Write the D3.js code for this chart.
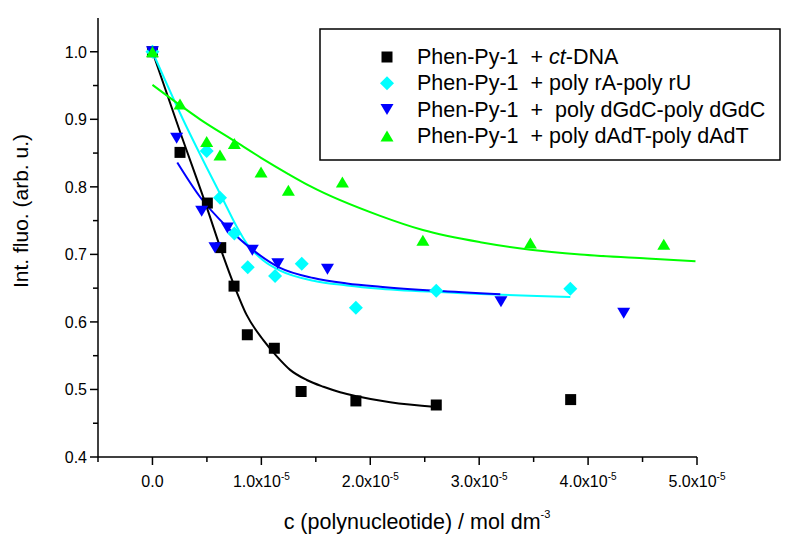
<!DOCTYPE html>
<html>
<head>
<meta charset="utf-8">
<script src="https://cdn.jsdelivr.net/npm/d3@7/dist/d3.min.js"></script>
<style>
  html, body { margin: 0; padding: 0; background: #fff; }
  svg { display: block; font-family: "Liberation Sans", Arial, sans-serif; }
  text { white-space: pre; }
</style>
</head>
<body>
<svg id="chart" width="798" height="534"></svg>
<script>
// Concentrations are in units of 1e-5 mol dm^-3; intensities are normalised.

// Phen-Py-1 + ct-DNA
const dnaX = [0, 0.253, 0.504, 0.627, 0.749, 0.871, 1.119, 1.365, 1.868, 2.606, 3.84];
const dnaY = [1.0, 0.851, 0.776, 0.710, 0.653, 0.581, 0.561, 0.497, 0.483, 0.477, 0.485];
const dnaFitX = [0, 0.25, 0.498, 0.651, 0.743, 0.866, 1.018, 1.142, 1.264, 1.417, 1.570, 1.723, 1.877, 2.183, 2.606];
const dnaFitY = [1.0, 0.883, 0.770, 0.697, 0.657, 0.610, 0.573, 0.549, 0.529, 0.514, 0.504, 0.496, 0.490, 0.481, 0.474];

// Phen-Py-1 + poly rA-poly rU
const rArUX = [0, 0.498, 0.62, 0.752, 0.875, 1.126, 1.371, 1.868, 2.606, 3.837];
const rArUY = [1.0, 0.853, 0.784, 0.731, 0.681, 0.668, 0.686, 0.621, 0.646, 0.649];
const rArUFitX = [0, 0.283, 0.5, 0.636, 0.774, 0.866, 1.018, 1.172, 1.478, 1.785, 2.091, 2.8, 3.837];
const rArUFitY = [1.0, 0.899, 0.828, 0.785, 0.741, 0.716, 0.691, 0.676, 0.661, 0.654, 0.649, 0.643, 0.637];

// Phen-Py-1 + poly dGdC-poly dGdC
const gcX = [0, 0.222, 0.452, 0.574, 0.688, 0.917, 1.151, 1.607, 3.2, 4.327];
const gcY = [1.0, 0.872, 0.764, 0.710, 0.739, 0.706, 0.686, 0.678, 0.630, 0.613];
const gcFitX = [0.228, 0.437, 0.682, 0.926, 1.172, 1.478, 1.785, 2.091, 2.6, 3.194];
const gcFitY = [0.836, 0.785, 0.741, 0.706, 0.680, 0.665, 0.657, 0.652, 0.646, 0.641];

// Phen-Py-1 + poly dAdT-poly dAdT
const atX = [0, 0.253, 0.498, 0.62, 0.752, 0.997, 1.248, 1.744, 2.483, 3.47, 4.695];
const atY = [1.0, 0.9225, 0.867, 0.847, 0.864, 0.822, 0.795, 0.807, 0.721, 0.717, 0.715];
const atFitX = [0, 0.253, 0.437, 0.752, 0.997, 1.248, 1.448, 2.091, 2.483, 3.01, 3.47, 3.929, 4.542, 4.986];
const atFitY = [0.951, 0.921, 0.900, 0.868, 0.843, 0.819, 0.801, 0.757, 0.736, 0.718, 0.707, 0.700, 0.694, 0.690];

// Axis ticks
const xMajorTicks = [0, 1, 2, 3, 4, 5];
const xMinorTicks = [-0.5, 0.5, 1.5, 2.5, 3.5, 4.5];
const yMajorTicks = [0.4, 0.5, 0.6, 0.7, 0.8, 0.9, 1.0];
const yMinorTicks = [0.45, 0.55, 0.65, 0.75, 0.85, 0.95];

const seriesNames = [
  ["Phen-Py-1  + ", "ct", "-DNA"],
  ["Phen-Py-1  + poly rA-poly rU"],
  ["Phen-Py-1  +  poly dGdC-poly dGdC"],
  ["Phen-Py-1  + poly dAdT-poly dAdT"]
];

const series = [
  { x: dnaX, y: dnaY, fx: dnaFitX, fy: dnaFitY, color: "#000000", shape: "square" },
  { x: rArUX, y: rArUY, fx: rArUFitX, fy: rArUFitY, color: "#00ffff", shape: "diamond" },
  { x: gcX, y: gcY, fx: gcFitX, fy: gcFitY, color: "#0000ff", shape: "down" },
  { x: atX, y: atY, fx: atFitX, fy: atFitY, color: "#00ff00", shape: "up" }
];

const svg = d3.select("#chart");
const x = d3.scaleLinear().domain([-0.5, 5]).range([98, 697]);
const y = d3.scaleLinear().domain([0.4, 1.05]).range([457, 18]);

function markerPath(shape) {
  if (shape === "square") return "M-5.5,-5.5H5.5V5.5H-5.5Z";
  if (shape === "diamond") return "M0,-7L7,0L0,7L-7,0Z";
  if (shape === "down") return "M-6.5,-5.5L6.5,-5.5L0,5.5Z";
  return "M0,-5.5L6.5,5.5L-6.5,5.5Z";
}

// Fitted curves
const line = d3.line().x(d => x(d[0])).y(d => y(d[1])).curve(d3.curveMonotoneX);
const plot = svg.append("g");
series.forEach(s => {
  plot.append("path")
    .attr("d", line(d3.zip(s.fx, s.fy)))
    .attr("fill", "none")
    .attr("stroke", s.color)
    .attr("stroke-width", 2);
});

// Data points (drawn in legend order so later series sit on top)
series.forEach(s => {
  plot.selectAll(null)
    .data(d3.zip(s.x, s.y))
    .join("path")
    .attr("d", markerPath(s.shape))
    .attr("transform", d => `translate(${x(d[0])},${y(d[1])})`)
    .attr("fill", s.color);
});

// Axes
const axes = svg.append("g").attr("stroke", "#000").attr("stroke-width", 1.5);
axes.append("line").attr("x1", x(-0.5)).attr("x2", x(5)).attr("y1", y(0.4)).attr("y2", y(0.4));
axes.append("line").attr("x1", x(-0.5)).attr("x2", x(-0.5)).attr("y1", y(0.4)).attr("y2", y(1.05));

axes.selectAll(null).data(xMajorTicks).join("line")
  .attr("x1", d => x(d)).attr("x2", d => x(d)).attr("y1", y(0.4)).attr("y2", y(0.4) + 8);
axes.selectAll(null).data(xMinorTicks).join("line")
  .attr("x1", d => x(d)).attr("x2", d => x(d)).attr("y1", y(0.4)).attr("y2", y(0.4) + 5);
axes.selectAll(null).data(yMajorTicks).join("line")
  .attr("y1", d => y(d)).attr("y2", d => y(d)).attr("x1", x(-0.5)).attr("x2", x(-0.5) - 8);
axes.selectAll(null).data(yMinorTicks).join("line")
  .attr("y1", d => y(d)).attr("y2", d => y(d)).attr("x1", x(-0.5)).attr("x2", x(-0.5) - 5);

// Tick labels
svg.selectAll(null).data(yMajorTicks).join("text")
  .attr("x", x(-0.5) - 11)
  .attr("y", d => y(d) + 6)
  .attr("text-anchor", "end")
  .attr("font-size", 16)
  .text(d => d.toFixed(1));

const xl = svg.selectAll(null).data(xMajorTicks).join("text")
  .attr("x", d => x(d))
  .attr("y", 487)
  .attr("text-anchor", "middle")
  .attr("font-size", 16);
xl.append("tspan").text(d => d === 0 ? "0.0" : d.toFixed(1) + "x10");
xl.filter(d => d !== 0).append("tspan")
  .attr("dy", -7).attr("font-size", 10).text("-5");

// Axis titles
const xt = svg.append("text")
  .attr("x", 417).attr("y", 529)
  .attr("text-anchor", "middle")
  .attr("font-size", 21.5);
xt.append("tspan").text("c (polynucleotide) / mol dm");
xt.append("tspan").attr("dy", -11).attr("font-size", 11).text("-3");

svg.append("text")
  .attr("transform", "translate(28,211) rotate(-90)")
  .attr("text-anchor", "middle")
  .attr("font-size", 21)
  .text("Int. fluo. (arb. u.)");

// Legend
const legend = svg.append("g");
legend.append("rect")
  .attr("x", 320).attr("y", 29).attr("width", 460).attr("height", 131)
  .attr("fill", "#fff").attr("stroke", "#000").attr("stroke-width", 1.5);
series.forEach((s, i) => {
  const cy = 57 + i * 26.3;
  legend.append("path")
    .attr("d", markerPath(s.shape))
    .attr("transform", `translate(387,${cy})`)
    .attr("fill", s.color);
  const t = legend.append("text")
    .attr("x", 417).attr("y", cy + 7)
    .attr("font-size", 21.5);
  seriesNames[i].forEach((part, j) => {
    const sp = t.append("tspan").text(part);
    if (seriesNames[i].length > 1 && j === 1) sp.attr("font-style", "italic");
  });
});
</script>
</body>
</html>
